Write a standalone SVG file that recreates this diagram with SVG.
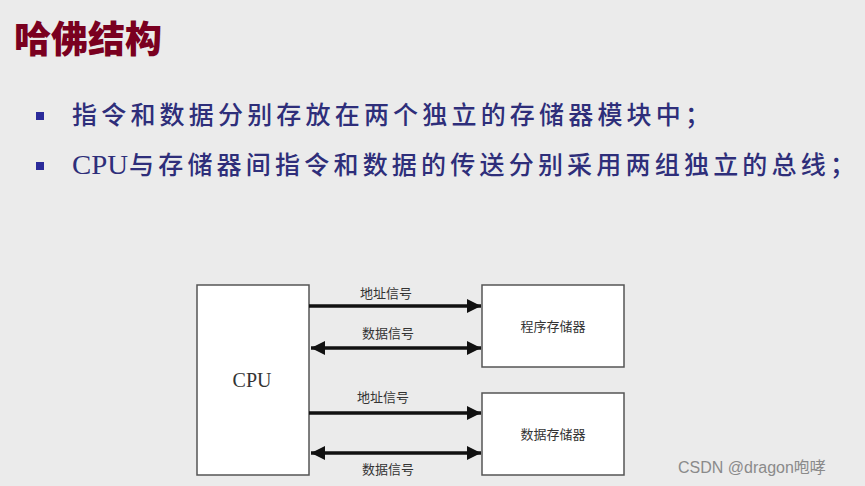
<svg xmlns="http://www.w3.org/2000/svg" width="865" height="486" viewBox="0 0 865 486">
<defs>
<style>
.bul{font-family:"Noto Sans CJK SC",sans-serif;font-size:25px;fill:#2e2e7a;font-weight:500;}
.lat{font-family:"Liberation Serif",serif;font-size:27px;fill:#2e2e7a;}
.lbl{font-family:"Noto Sans CJK SC",sans-serif;font-size:13px;fill:#333;text-anchor:middle;}
.box{fill:#ffffff;stroke:#555;stroke-width:1.5;}
.bus{stroke:#111;stroke-width:3.5;fill:none;}
.sq{fill:#2a2a9a;}
</style>
<marker id="ah" viewBox="0 0 10 10" refX="10" refY="5" markerWidth="5" markerHeight="4" markerUnits="strokeWidth" orient="auto-start-reverse">
<path d="M0,0 L10,5 L0,10 Z" fill="#111"/>
</marker>
</defs>
<rect x="0" y="0" width="865" height="486" fill="#ebebeb"/>
<text x="14" y="53" font-family="Noto Sans CJK SC,sans-serif" font-weight="900" font-size="37" fill="#7a0020">哈佛结构</text>
<rect class="sq" x="36" y="112" width="8" height="8"/>
<text class="bul" x="72" y="124" textLength="638" lengthAdjust="spacing">指令和数据分别存放在两个独立的存储器模块中；</text>
<rect class="sq" x="36" y="162" width="8" height="8"/>
<text class="lat" x="72" y="174" textLength="56" lengthAdjust="spacingAndGlyphs">CPU</text>
<text class="bul" x="129" y="174" textLength="726" lengthAdjust="spacing">与存储器间指令和数据的传送分别采用两组独立的总线；</text>
<g id="cpu">
<rect class="box" x="197" y="285" width="112" height="190"/>
<text x="252" y="387" font-family="Liberation Serif,serif" font-size="20" fill="#333" text-anchor="middle">CPU</text>
</g>
<g id="progmem">
<rect class="box" x="482" y="285" width="142" height="82"/>
<text class="lbl" x="553" y="331" font-size="14">程序存储器</text>
</g>
<g id="datamem">
<rect class="box" x="482" y="393" width="142" height="82"/>
<text class="lbl" x="553" y="439" font-size="14">数据存储器</text>
</g>
<g id="connectors">
<line class="bus" x1="309" y1="306" x2="481" y2="306" marker-end="url(#ah)"/>
<line class="bus" x1="311" y1="348" x2="481" y2="348" marker-start="url(#ah)" marker-end="url(#ah)"/>
<line class="bus" x1="309" y1="413" x2="481" y2="413" marker-end="url(#ah)"/>
<line class="bus" x1="311" y1="453" x2="481" y2="453" marker-start="url(#ah)" marker-end="url(#ah)"/>
<text class="lbl" x="386" y="298">地址信号</text>
<text class="lbl" x="388" y="338">数据信号</text>
<text class="lbl" x="383" y="402">地址信号</text>
<text class="lbl" x="388" y="474">数据信号</text>
</g>
<text x="678" y="473" font-family="Liberation Sans,Noto Sans CJK SC,sans-serif" font-size="16" fill="#8a8a8a">CSDN @dragon咆哮</text>
</svg>
